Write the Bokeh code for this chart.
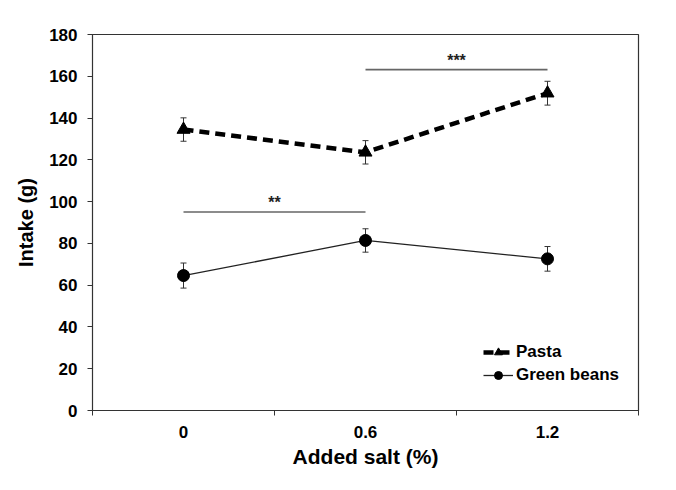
from bokeh.plotting import figure
from bokeh.models import (ColumnDataSource, Range1d, FixedTicker, LinearAxis, Whisker,
                          TeeHead, Legend, LegendItem)
from bokeh.core.properties import value
from bokeh.embed import file_html
from bokeh.resources import INLINE

# ---- data ----
salt_labels = ["0", "0.6", "1.2"]
salt_pos = [0, 1, 2]
pasta = [134.5, 123.6, 151.9]
pasta_err = [5.6, 5.6, 5.7]
beans = [64.6, 81.4, 72.6]
beans_err = [6.0, 5.6, 5.9]
y_ticks = [0, 20, 40, 60, 80, 100, 120, 140, 160, 180]
boundary_ticks = [-0.5, 0.5, 1.5, 2.5]
# significance brackets: (x start, x end, y level, label)
sig_x0 = [1, 0]
sig_x1 = [2, 1]
sig_y = [163.2, 95.0]
sig_text = ["***", "**"]

FONT = "Liberation Sans"
AX = "#333333"

W, H = 660, 474
p = figure(width=W, height=H, output_backend="svg", toolbar_location=None,
           x_range=Range1d(-0.5, 2.5), y_range=Range1d(0, 180),
           x_axis_location=None, y_axis_location=None,
           min_border_left=92, min_border_right=22, min_border_top=34, min_border_bottom=64)
p.grid.visible = False
p.outline_line_color = AX
p.outline_line_width = 1.2
p.background_fill_color = "white"
p.border_fill_color = "white"

# y axis
ya = LinearAxis(ticker=FixedTicker(ticks=y_ticks), axis_label="Intake (g)")
ya.axis_line_color = AX
ya.major_tick_line_color = AX
ya.major_tick_out = 5
ya.major_tick_in = 0
ya.minor_tick_line_color = None
ya.major_label_standoff = 10
ya.major_label_text_font = FONT
ya.major_label_text_font_style = "bold"
ya.major_label_text_font_size = "17px"
ya.major_label_text_color = "black"
ya.axis_label_text_font = FONT
ya.axis_label_text_font_style = "bold"
ya.axis_label_text_font_size = "20px"
ya.axis_label_text_color = "black"
ya.axis_label_standoff = 9
p.add_layout(ya, "left")

# x axis: labels at categories, tick marks (minor) at category boundaries
xa = LinearAxis(ticker=FixedTicker(ticks=salt_pos, minor_ticks=boundary_ticks),
                axis_label="Added salt (%)",
                major_label_overrides={pos: lab for pos, lab in zip(salt_pos, salt_labels)})
xa.axis_line_color = AX
xa.major_tick_line_color = None
xa.major_tick_out = 5
xa.major_tick_in = 0
xa.minor_tick_line_color = AX
xa.minor_tick_out = 5
xa.minor_tick_in = 0
xa.major_label_standoff = 10
xa.major_label_text_font = FONT
xa.major_label_text_font_style = "bold"
xa.major_label_text_font_size = "17px"
xa.major_label_text_color = "black"
xa.axis_label_text_font = FONT
xa.axis_label_text_font_style = "bold"
xa.axis_label_text_font_size = "21px"
xa.axis_label_text_color = "black"
xa.axis_label_standoff = 4
p.add_layout(xa, "below")

src = ColumnDataSource(dict(
    x=salt_pos,
    pasta=pasta,
    pasta_up=[v + e for v, e in zip(pasta, pasta_err)],
    pasta_lo=[v - e for v, e in zip(pasta, pasta_err)],
    beans=beans,
    beans_up=[v + e for v, e in zip(beans, beans_err)],
    beans_lo=[v - e for v, e in zip(beans, beans_err)],
))

# error bars
for up, lo in (("pasta_up", "pasta_lo"), ("beans_up", "beans_lo")):
    w = Whisker(base="x", upper=up, lower=lo, source=src, dimension="height",
                line_color="#333333", line_width=1,
                upper_head=TeeHead(size=6, line_color="#333333", line_width=1),
                lower_head=TeeHead(size=6, line_color="#333333", line_width=1))
    p.add_layout(w)

# series
pl = p.line("x", "pasta", source=src, line_color="black", line_width=4.5, line_dash="10 6")
pm = p.scatter("x", "pasta", source=src, marker="triangle", size=13, fill_color="black",
               line_color="black")
bl = p.line("x", "beans", source=src, line_color="#222222", line_width=1.3)
bm = p.scatter("x", "beans", source=src, marker="circle", size=12, fill_color="black",
               line_color="black")

# significance brackets
sig = ColumnDataSource(dict(x0=sig_x0, x1=sig_x1, y=sig_y, t=sig_text,
                            xm=[(a + b) / 2 for a, b in zip(sig_x0, sig_x1)]))
p.segment(x0="x0", y0="y", x1="x1", y1="y", source=sig, line_color="#666666", line_width=1.6)
p.text(x="xm", y="y", text="t", source=sig, text_align="center", text_baseline="bottom",
       y_offset=-1, text_font=value(FONT), text_font_style="bold", text_font_size="16px",
       text_color="#222222")

legend = Legend(items=[LegendItem(label="Pasta", renderers=[pl, pm]),
                       LegendItem(label="Green beans", renderers=[bl, bm])],
                location=(391, 25), orientation="vertical")
legend.background_fill_alpha = 0
legend.border_line_color = None
legend.padding = 0
legend.margin = 0
legend.spacing = 3
legend.glyph_width = 30
legend.glyph_height = 20
legend.label_height = 20
legend.label_standoff = 3
legend.label_text_font = FONT
legend.label_text_font_style = "bold"
legend.label_text_font_size = "17px"
legend.label_text_color = "black"
p.add_layout(legend)

open("out.html", "w").write(file_html(p, INLINE))
